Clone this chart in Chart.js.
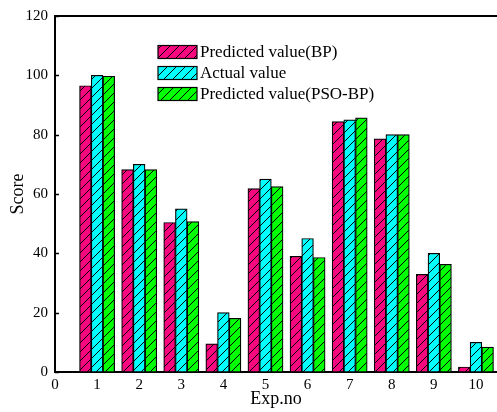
<!DOCTYPE html>
<html>
<head>
<meta charset="utf-8">
<script src="https://cdn.jsdelivr.net/npm/chart.js@4/dist/chart.umd.min.js"></script>
<style>
  html, body { margin: 0; padding: 0; background: #fff; }
  #chart { display: block; }
</style>
</head>
<body>
<canvas id="chart" width="497" height="412"></canvas>
<script>
// data
const categories = [1, 2, 3, 4, 5, 6, 7, 8, 9, 10];
const predictedBP = [96.5, 68.2, 50.4, 9.5, 61.8, 39.0, 84.4, 78.6, 32.9, 1.7];
const actualValue = [100, 70, 55, 20, 65, 45, 85, 80, 40, 10];
const predictedPSO = [99.7, 68.2, 50.7, 18.1, 62.5, 38.6, 85.7, 80, 36.3, 8.4];
const seriesLabels = ["Predicted value(BP)", "Actual value", "Predicted value(PSO-BP)"];
const seriesColors = ["#f8087f", "#00ffff", "#00ff00"];

const FONT = "'Liberation Serif', 'Times New Roman', serif";

// diagonal "/" hatch over a flat colour
function hatch(color) {
  const s = 9;
  const c = document.createElement("canvas");
  c.width = s; c.height = s;
  const g = c.getContext("2d");
  g.fillStyle = color;
  g.fillRect(0, 0, s, s);
  g.strokeStyle = "#000";
  g.lineWidth = 1;
  g.beginPath();
  g.moveTo(0, s); g.lineTo(s, 0);
  g.moveTo(-1, 1); g.lineTo(1, -1);
  g.moveTo(s - 1, s + 1); g.lineTo(s + 1, s - 1);
  g.stroke();
  return g.createPattern(c, "repeat");
}

const ctx = document.getElementById("chart").getContext("2d");
const patterns = seriesColors.map(hatch);

function toPoints(vals) {
  return vals.map((v, i) => ({ x: categories[i], y: v }));
}

// legend inside plot + top frame line + inward y ticks
const extras = {
  id: "extras",
  afterDraw(chart) {
    const { ctx, chartArea } = chart;
    const y = chart.scales.y;
    ctx.save();
    ctx.strokeStyle = "#000";
    ctx.lineWidth = 2;
    ctx.beginPath();
    ctx.moveTo(chartArea.left - 1, chartArea.top);
    ctx.lineTo(chartArea.right, chartArea.top);
    ctx.stroke();

    ctx.lineWidth = 1.5;
    y.ticks.forEach(t => {
      const py = Math.round(y.getPixelForValue(t.value)) + 0.5;
      ctx.beginPath();
      ctx.moveTo(chartArea.left, py);
      ctx.lineTo(chartArea.left + 4, py);
      ctx.stroke();
    });

    // legend
    const bx = 158, bw = 39, bh = 13;
    const rows = [52, 73, 94];
    ctx.font = "17px " + FONT;
    ctx.textBaseline = "middle";
    ctx.textAlign = "left";
    chart.data.datasets.forEach((ds, i) => {
      const cy = rows[i];
      ctx.fillStyle = ds.backgroundColor;
      ctx.fillRect(bx, cy - bh / 2, bw, bh);
      ctx.lineWidth = 1.2;
      ctx.strokeStyle = "#000";
      ctx.strokeRect(bx, cy - bh / 2, bw, bh);
      ctx.fillStyle = "#000";
      ctx.fillText(ds.label, bx + bw + 3, cy + 1);
    });
    ctx.restore();
  }
};

new Chart(ctx, {
  type: "bar",
  data: {
    datasets: [
      { label: seriesLabels[0], data: toPoints(predictedBP), backgroundColor: patterns[0] },
      { label: seriesLabels[1], data: toPoints(actualValue), backgroundColor: patterns[1] },
      { label: seriesLabels[2], data: toPoints(predictedPSO), backgroundColor: patterns[2] },
    ].map(d => Object.assign(d, {
      borderColor: "#000",
      borderWidth: 1.2,
      borderSkipped: false,
      barThickness: 11.7,
    })),
  },
  options: {
    responsive: false,
    animation: false,
    layout: { padding: { top: 15, right: 0, left: 0, bottom: 0 } },
    plugins: {
      legend: { display: false },
      tooltip: { enabled: false },
    },
    scales: {
      x: {
        type: "linear",
        offset: false,
        min: 0,
        max: 10.5,
        afterFit: s => { s.height = 40; },
        ticks: { stepSize: 1, includeBounds: false, color: "#000", padding: 4, maxRotation: 0,
                 font: { family: FONT, size: 15 } },
        grid: { display: false, drawTicks: false, offset: false },
        border: { display: true, color: "#000", width: 2 },
        title: { display: true, text: "Exp.no", color: "#000", padding: { top: 0, bottom: 2 },
                 font: { family: FONT, size: 18 } },
      },
      y: {
        min: 0,
        max: 120,
        afterFit: s => { s.width = 55; },
        ticks: { stepSize: 20, color: "#000", padding: 7, font: { family: FONT, size: 15 } },
        grid: { display: false, drawTicks: false },
        border: { display: true, color: "#000", width: 2 },
        title: { display: true, text: "Score", color: "#000", padding: { top: 7, bottom: 0 },
                 font: { family: FONT, size: 18 } },
      },
    },
  },
  plugins: [extras],
});
</script>
</body>
</html>
